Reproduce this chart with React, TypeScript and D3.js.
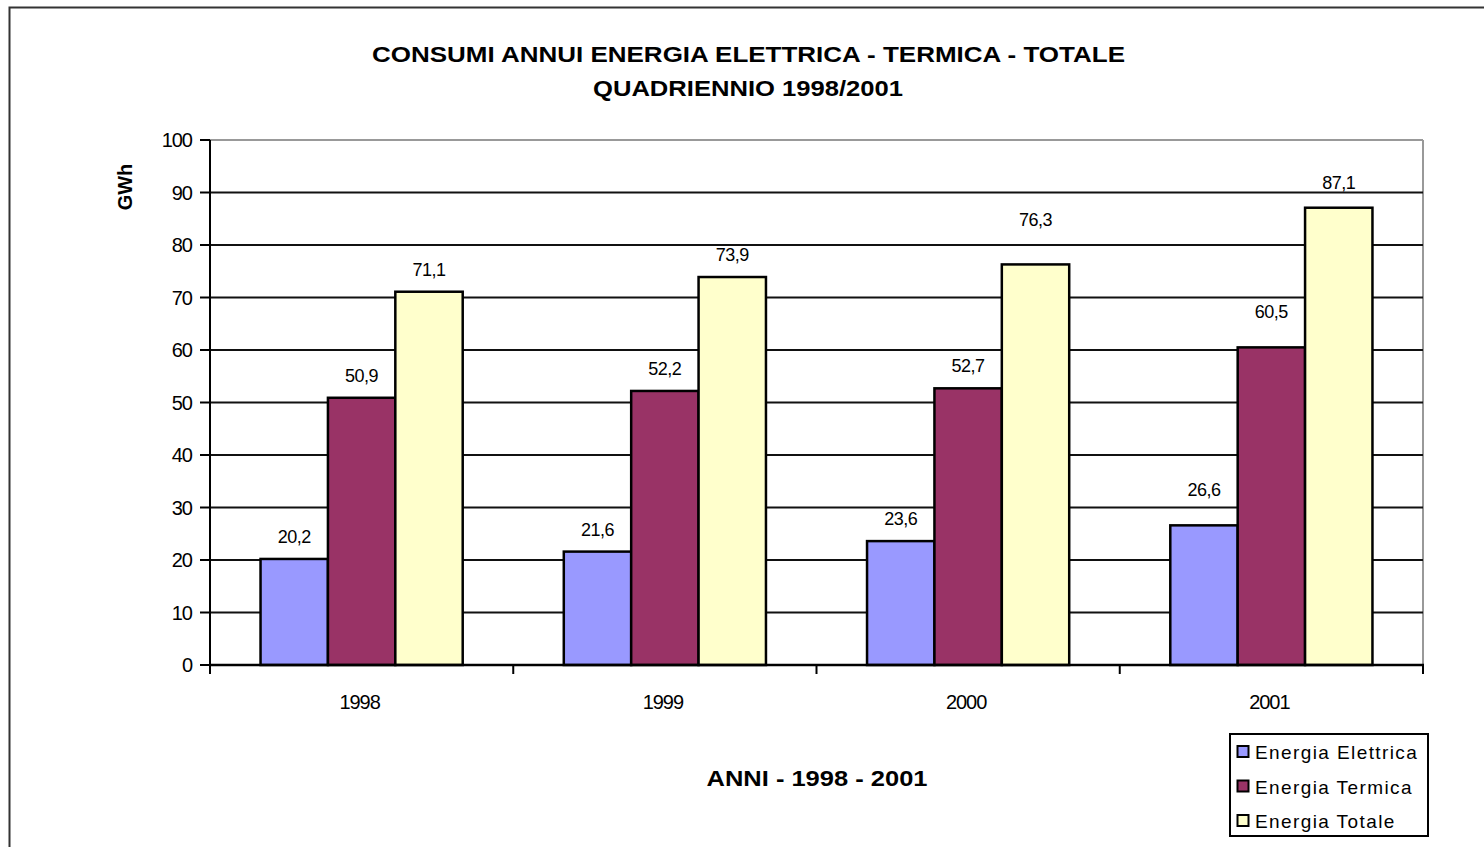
import React from "react";
import * as d3 from "d3";

const categories = ["1998", "1999", "2000", "2001"];
const seriesNames = ["Energia Elettrica", "Energia Termica", "Energia Totale"];
const elettrica = [20.2, 21.6, 23.6, 26.6];
const termica = [50.9, 52.2, 52.7, 60.5];
const totale = [71.1, 73.9, 76.3, 87.1];
const yTicks = [0, 10, 20, 30, 40, 50, 60, 70, 80, 90, 100];
const colors = ["#9999FF", "#993366", "#FFFFCC"];

// extra raise (px) of individual value labels, as placed in the original
const labelRaise = [
  [0, 0, 0],
  [0, 0, 0],
  [0, 0, 22],
  [13, 13, 3],
];

const W = 1484;
const H = 847;
const plot = { left: 210, right: 1423, top: 140, bottom: 665 };
const font = "Arial, 'Liberation Sans', Helvetica, sans-serif";

export default function App() {
  const series = [elettrica, termica, totale];
  const x0 = d3.scaleBand<string>().domain(categories).range([plot.left, plot.right]).paddingInner(0).paddingOuter(0);
  const groupW = x0.bandwidth();
  const barW = groupW / 4.5;
  const x1 = d3
    .scaleBand<string>()
    .domain(seriesNames)
    .range([0.75 * barW, 0.75 * barW + 3 * barW])
    .padding(0);
  const y = d3.scaleLinear().domain([0, 100]).range([plot.bottom, plot.top]);
  const fmt = (v: number) => d3.format(".1f")(v).replace(".", ",");
  const boundaries = [...categories.map((c) => x0(c) as number), plot.right];

  return (
    <svg
      width={W}
      height={H}
      style={{ position: "absolute", left: 0, top: 0, background: "#fff" }}
      fontFamily={font}
    >
      <rect x={0} y={0} width={W} height={H} fill="#fff" />
      {/* outer chart border */}
      <rect x={9.5} y={7.5} width={W + 10} height={H + 10} fill="none" stroke="#333" strokeWidth={2} />

      {/* title */}
      <text x={748.5} y={62} textAnchor="middle" fontWeight="bold" fontSize={22} textLength={753} lengthAdjust="spacingAndGlyphs" fill="#000">
        CONSUMI ANNUI ENERGIA ELETTRICA - TERMICA - TOTALE
      </text>
      <text x={748} y={96} textAnchor="middle" fontWeight="bold" fontSize={22} textLength={310} lengthAdjust="spacingAndGlyphs" fill="#000">
        QUADRIENNIO 1998/2001
      </text>

      {/* plot border (top/right gray) */}
      <line x1={plot.left} x2={plot.right} y1={plot.top} y2={plot.top} stroke="#999" strokeWidth={2} />
      <line x1={plot.right} x2={plot.right} y1={plot.top} y2={plot.bottom} stroke="#999" strokeWidth={2} />

      {/* gridlines */}
      {yTicks
        .filter((t) => t > 0 && t < 100)
        .map((t) => (
          <line key={"g" + t} x1={plot.left} x2={plot.right} y1={y(t)} y2={y(t)} stroke="#111" strokeWidth={2} />
        ))}

      {/* bars */}
      {categories.map((c, i) => (
        <g key={c} transform={`translate(${x0(c)},0)`}>
          {series.map((s, j) => (
            <rect
              key={j}
              x={x1(seriesNames[j])}
              y={y(s[i])}
              width={x1.bandwidth()}
              height={y(0) - y(s[i])}
              fill={colors[j]}
              stroke="#000"
              strokeWidth={2.5}
            />
          ))}
          {series.map((s, j) => (
            <text
              key={"l" + j}
              x={(x1(seriesNames[j]) as number) + x1.bandwidth() / 2}
              y={y(s[i]) - 16 - labelRaise[i][j]}
              textAnchor="middle"
              fontSize={18}
              letterSpacing={-0.5}
              fill="#000"
            >
              {fmt(s[i])}
            </text>
          ))}
        </g>
      ))}

      {/* y axis */}
      <line x1={plot.left} x2={plot.left} y1={plot.top} y2={plot.bottom} stroke="#000" strokeWidth={2} />
      {yTicks.map((t) => (
        <g key={"t" + t}>
          <line x1={plot.left - 10} x2={plot.left} y1={y(t)} y2={y(t)} stroke="#000" strokeWidth={2} />
          <text x={192} y={y(t) + 7} textAnchor="end" fontSize={20} letterSpacing={-1} fill="#000">
            {t}
          </text>
        </g>
      ))}
      <text
        transform={`translate(132,187) rotate(-90)`}
        textAnchor="middle"
        fontWeight="bold"
        fontSize={20}
        fill="#000"
      >
        GWh
      </text>

      {/* x axis */}
      <line x1={plot.left} x2={plot.right + 1} y1={plot.bottom} y2={plot.bottom} stroke="#000" strokeWidth={2.5} />
      {boundaries.map((b, i) => (
        <line key={"xb" + i} x1={b} x2={b} y1={plot.bottom} y2={plot.bottom + 9} stroke="#000" strokeWidth={2} />
      ))}
      {categories.map((c) => (
        <text
          key={"xl" + c}
          x={(x0(c) as number) + groupW / 2 - 2}
          y={709}
          textAnchor="middle"
          fontSize={20}
          letterSpacing={-1}
          fill="#000"
        >
          {c}
        </text>
      ))}
      <text x={817} y={786} textAnchor="middle" fontWeight="bold" fontSize={22} textLength={221} lengthAdjust="spacingAndGlyphs" fill="#000">
        ANNI - 1998 - 2001
      </text>

      {/* legend */}
      <rect x={1230} y={734} width={198} height={102} fill="#fff" stroke="#000" strokeWidth={2} />
      {seriesNames.map((n, j) => (
        <g key={"lg" + j} transform={`translate(0,${752 + j * 34.5})`}>
          <rect x={1237.5} y={-6} width={11} height={11} fill={colors[j]} stroke="#000" strokeWidth={2} />
          <text x={1255} y={7} fontSize={19} letterSpacing={1.4} fill="#000">
            {n}
          </text>
        </g>
      ))}
    </svg>
  );
}
